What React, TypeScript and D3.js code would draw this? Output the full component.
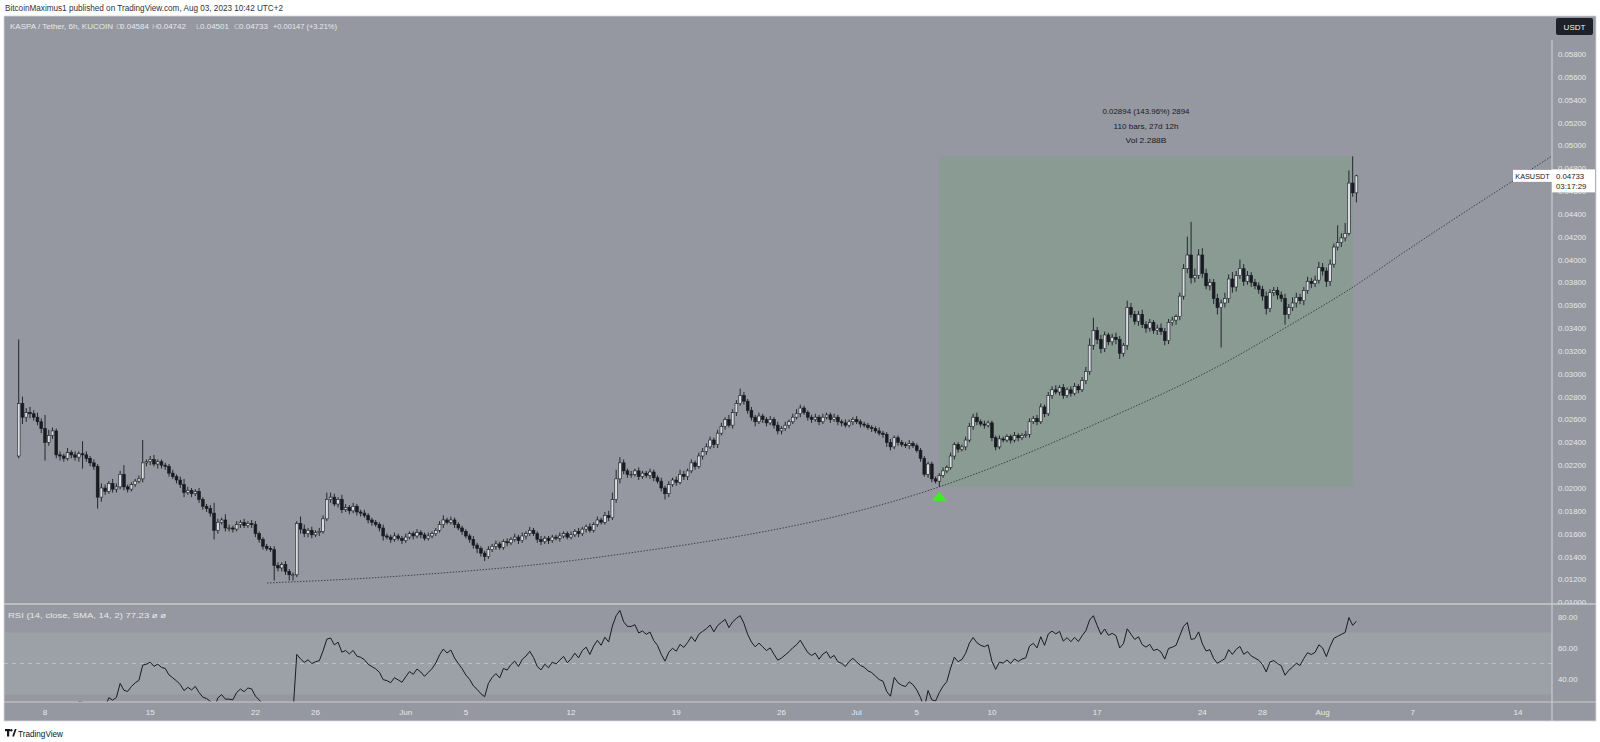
import React, { useMemo } from "react";
import * as d3 from "d3";

const W = 1600;
const H = 742;

// ---- data (prices in units of 0.0001 USDT), 6h bars from 2023-05-06 06:00 UTC ----
const FIRST_BAR = Date.UTC(2023, 4, 6, 6);
const BAR_MS = 6 * 3600 * 1000;
const FIRST_OPEN = 228;

const closes: number[] = [
  274, 262, 266, // May 6
  265, 262, 258, 252, // May 7
  240, 246, 250, 229, // May 8
  228, 226, 231, 229, // May 9
  227, 230, 229, 226, // May 10
  222, 219, 192, 200, // May 11
  197, 204, 199, 201, // May 12
  212, 201, 199, 203, // May 13
  206, 208, 222, 223, // May 14
  225, 221, 223, 220, // May 15
  219, 213, 210, 207, // May 16
  203, 196, 198, 195, // May 17
  197, 190, 184, 182, // May 18
  178, 163, 170, 172, // May 19
  165, 165, 164, 168, // May 20
  170, 167, 169, 168, // May 21
  160, 155, 149, 147, // May 22
  146, 132, 130, 133, // May 23
  127, 124, 124, 169, // May 24
  164, 160, 163, 159, // May 25
  161, 162, 173, 190, // May 26
  192, 186, 190, 181, // May 27
  183, 180, 184, 179, // May 28
  178, 176, 172, 170, // May 29
  168, 165, 158, 157, // May 30
  155, 158, 156, 154, // May 31
  157, 160, 158, 161, // Jun 1
  159, 156, 158, 160, // Jun 2
  163, 168, 172, 170, // Jun 3
  172, 168, 165, 162, // Jun 4
  158, 155, 150, 147, // Jun 5
  143, 140, 146, 149, // Jun 6
  151, 148, 153, 152, // Jun 7
  155, 157, 154, 158, // Jun 8
  160, 163, 160, 155, // Jun 9
  153, 156, 154, 157, // Jun 10
  156, 158, 160, 157, // Jun 11
  159, 162, 160, 164, // Jun 12
  166, 163, 168, 172, // Jun 13
  170, 176, 174, 190, // Jun 14
  208, 222, 215, 212, // Jun 15
  212, 215, 210, 213, // Jun 16
  211, 214, 209, 206, // Jun 17
  200, 195, 203, 207, // Jun 18
  205, 212, 210, 215, // Jun 19
  222, 219, 228, 232, // Jun 20
  236, 242, 238, 248, // Jun 21
  254, 260, 255, 266, // Jun 22
  274, 281, 276, 268, // Jun 23
  262, 258, 263, 260, // Jun 24
  257, 260, 255, 250, // Jun 25
  252, 255, 258, 262, // Jun 26
  265, 270, 266, 262, // Jun 27
  260, 262, 258, 262, // Jun 28
  264, 260, 262, 258, // Jun 29
  257, 255, 258, 260, // Jun 30
  258, 256, 255, 253, // Jul 1
  252, 250, 248, 247, // Jul 2
  240, 236, 244, 240, // Jul 3
  238, 237, 239, 237, // Jul 4
  233, 226, 212, 221, // Jul 5
  208, 206, 211, 215, // Jul 6
  218, 228, 238, 234, // Jul 7
  236, 242, 254, 262, // Jul 8
  258, 256, 255, 257, // Jul 9
  244, 236, 243, 242, // Jul 10
  245, 242, 246, 244, // Jul 11
  246, 247, 258, 261, // Jul 12
  258, 271, 265, 281, // Jul 13
  286, 284, 288, 281, // Jul 14
  286, 283, 289, 286, // Jul 15
  294, 302, 325, 338, // Jul 16
  330, 322, 334, 328, // Jul 17
  332, 330, 318, 325, // Jul 18
  358, 352, 346, 352, // Jul 19
  343, 340, 345, 338, // Jul 20
  340, 337, 329, 345, // Jul 21
  347, 350, 368, 392, // Jul 22
  404, 384, 386, 404, // Jul 23
  388, 377, 380, 366, // Jul 24
  358, 362, 366, 383, // Jul 25
  376, 386, 392, 381, // Jul 26
  386, 380, 377, 374, // Jul 27
  368, 357, 371, 373, // Jul 28
  369, 366, 352, 358, // Jul 29
  362, 367, 364, 373, // Jul 30
  381, 379, 382, 393, // Jul 31
  390, 381, 396, 411, // Aug 1
  415, 419, 423, 467, // Aug 2
  458.4, 473.3, // Aug 3
];

const wickUp: number[] = [
  56, 6, 4,
  5, 3, 4, 3,
  12, 5, 3, 2,
  3, 2, 4, 2,
  3, 2, 11, 3,
  2, 3, 2, 4,
  3, 2, 4, 3,
  3, 8, 2, 2,
  2, 3, 20, 2,
  3, 4, 2, 2,
  2, 2, 3, 2,
  3, 5, 3, 2,
  2, 3, 2, 2,
  3, 9, 3, 2,
  5, 3, 2, 3,
  2, 3, 2, 3,
  3, 2, 2, 2,
  2, 3, 3, 2,
  3, 2, 2, 2,
  6, 4, 2, 3,
  2, 3, 3, 6,
  4, 3, 2, 4,
  3, 2, 3, 2,
  2, 3, 2, 2,
  2, 2, 3, 2,
  2, 3, 2, 2,
  3, 2, 2, 3,
  2, 2, 3, 2,
  2, 3, 4, 2,
  3, 2, 2, 2,
  2, 2, 3, 2,
  2, 2, 3, 2,
  3, 2, 2, 3,
  2, 3, 2, 3,
  2, 3, 2, 2,
  3, 2, 2, 2,
  2, 3, 2, 2,
  3, 2, 3, 2,
  2, 3, 2, 3,
  2, 3, 4, 6,
  8, 5, 3, 2,
  3, 2, 3, 2,
  2, 3, 2, 2,
  3, 2, 3, 2,
  3, 4, 3, 2,
  3, 2, 3, 3,
  3, 3, 2, 3,
  3, 2, 4, 3,
  3, 6, 3, 2,
  3, 2, 3, 2,
  2, 3, 2, 3,
  2, 3, 2, 3,
  4, 3, 2, 2,
  2, 3, 2, 3,
  2, 2, 3, 2,
  2, 3, 2, 2,
  3, 2, 2, 2,
  2, 2, 3, 2,
  2, 3, 2, 2,
  2, 2, 3, 2,
  2, 2, 2, 2,
  2, 2, 2, 3,
  2, 3, 2, 2,
  2, 3, 3, 3,
  4, 2, 3, 2,
  2, 2, 3, 2,
  2, 2, 3, 2,
  2, 3, 3, 2,
  3, 3, 2, 3,
  3, 4, 2, 3,
  2, 3, 3, 2,
  3, 4, 6, 11,
  3, 4, 3, 2,
  3, 4, 3, 2,
  6, 4, 3, 3,
  4, 3, 3, 2,
  3, 4, 3, 3,
  3, 2, 3, 4,
  16, 29, 6, 5,
  6, 4, 3, 3,
  4, 3, 5, 4,
  6, 4, 8, 4,
  4, 3, 3, 3,
  3, 4, 3, 3,
  3, 3, 4, 3,
  5, 4, 3, 3,
  4, 3, 4, 5,
  4, 3, 4, 3,
  15, 4, 9, 11,
  23.4, 0.9,
];

const wickDown: number[] = [
  2, 6, 4,
  4, 3, 3, 4,
  16, 3, 3, 3,
  4, 3, 2, 3,
  3, 4, 12, 3,
  3, 3, 10, 4,
  3, 2, 3, 3,
  2, 3, 3, 2,
  2, 2, 3, 3,
  3, 2, 4, 3,
  3, 3, 2, 3,
  3, 4, 2, 3,
  2, 3, 3, 3,
  3, 8, 3, 2,
  3, 3, 3, 2,
  3, 2, 2, 3,
  3, 3, 3, 2,
  2, 13, 3, 3,
  3, 5, 5, 2,
  4, 3, 3, 3,
  2, 3, 2, 2,
  3, 2, 3, 3,
  2, 3, 2, 3,
  3, 2, 3, 3,
  2, 3, 4, 2,
  3, 2, 2, 3,
  2, 2, 3, 2,
  3, 2, 2, 2,
  2, 2, 3, 2,
  2, 3, 2, 3,
  2, 3, 3, 4,
  3, 4, 2, 2,
  3, 2, 2, 3,
  2, 2, 3, 2,
  3, 2, 2, 3,
  3, 2, 3, 2,
  2, 3, 2, 2,
  2, 2, 3, 2,
  3, 2, 2, 2,
  2, 2, 3, 2,
  3, 4, 3, 3,
  3, 2, 3, 2,
  2, 3, 3, 2,
  3, 5, 3, 2,
  3, 2, 3, 3,
  2, 3, 2, 3,
  3, 2, 3, 3,
  2, 3, 2, 3,
  3, 2, 3, 3,
  3, 4, 2, 3,
  3, 2, 3, 3,
  3, 2, 3, 2,
  2, 3, 2, 3,
  3, 2, 3, 2,
  2, 3, 2, 3,
  3, 2, 2, 3,
  2, 3, 2, 2,
  3, 2, 2, 3,
  4, 3, 2, 3,
  2, 2, 3, 2,
  2, 3, 2, 3,
  3, 2, 5, 2,
  2, 2, 3, 3,
  2, 3, 2, 3,
  3, 2, 3, 2,
  3, 3, 2, 2,
  2, 3, 2, 3,
  2, 2, 3, 2,
  3, 2, 3, 2,
  3, 2, 3, 3,
  2, 3, 2, 3,
  2, 3, 3, 4,
  4, 4, 3, 3,
  3, 4, 5, 3,
  4, 3, 3, 4,
  3, 4, 3, 3,
  4, 3, 4, 3,
  3, 4, 3, 3,
  4, 5, 4, 3,
  4, 3, 4, 5,
  6, 35, 4, 4,
  5, 4, 3, 4,
  3, 4, 3, 4,
  4, 5, 3, 3,
  4, 3, 9, 4,
  3, 4, 3, 4,
  3, 4, 3, 3,
  4, 5, 4, 3,
  3, 4, 3, 2,
  3.4, 8.3,
];

const priceTicks: number[] = [
  0.010, 0.012, 0.014, 0.016, 0.018, 0.020, 0.022, 0.024, 0.026, 0.028, 0.030,
  0.032, 0.034, 0.036, 0.038, 0.040, 0.042, 0.044, 0.046, 0.048, 0.050, 0.052,
  0.054, 0.056, 0.058,
];
const timeTickDates: string[] = [
  "2023-05-08", "2023-05-15", "2023-05-22", "2023-05-26", "2023-06-01", "2023-06-05",
  "2023-06-12", "2023-06-19", "2023-06-26", "2023-07-01", "2023-07-05", "2023-07-10",
  "2023-07-17", "2023-07-24", "2023-07-28", "2023-08-01", "2023-08-07", "2023-08-14",
];
const timeTickLabels: string[] = [
  "8", "15", "22", "26", "Jun", "5", "12", "19", "26", "Jul", "5", "10", "17", "24", "28", "Aug", "7", "14",
];
const rsiTicks: number[] = [80, 60, 40];

// hand-drawn curve (trend arc)
const curveDates: string[] = [
  "2023-05-22T18:30Z", "2023-05-31T15:00Z", "2023-06-13T22:20Z", "2023-07-06T12:00Z",
  "2023-07-17T04:30Z", "2023-07-25T20:00Z", "2023-07-29T20:00Z", "2023-08-03T00:45Z",
  "2023-08-06T03:30Z", "2023-08-18T06:30Z",
];
const curvePrices: number[] = [
  0.01168, 0.01229, 0.01396, 0.0201, 0.02578, 0.03121, 0.03427, 0.0376, 0.0404, 0.05074,
];

// measurement box
const measureFrom = "2023-07-06T12:00Z";
const measureTo = "2023-08-03T00:00Z";
const measureLow = 0.0201;
const measureHigh = 0.04904;
const measureLines = ["0.02894 (143.96%) 2894", "110 bars, 27d 12h", "Vol 2.288B"];

const lastPrice = 0.04733;

// ---- styles ----
const BG = "#9598a0";
const BAND = "#9ca0a7";
const LINE_LIGHT = "#c9ccd2";
const TXT_LIGHT = "#e6e8ec";
const DARK = "#181b22";
const UP_FILL = "#d9dce1";
const FONT = "'Liberation Sans', Arial, sans-serif";

// layout
const L = 4, R = 1552, RR = 1596, TOP = 16, SEP = 604, RSI_BOT = 702, AX_BOT = 721;

export default function App() {
  const x = d3.scaleUtc().domain([new Date(Date.UTC(2023, 4, 8)), new Date(Date.UTC(2023, 7, 14))]).range([45, 1518]);
  const y = d3.scaleLinear().domain([0.02, 0.058]).range([488, 54]);
  const yr = d3.scaleLinear().domain([40, 80]).range([679, 617]);

  const bars = useMemo(() => {
    const out: { t: Date; o: number; h: number; l: number; c: number }[] = [];
    let prev = FIRST_OPEN;
    for (let i = 0; i < closes.length; i++) {
      const o = prev;
      const c = closes[i];
      const h = Math.max(o, c) + (wickUp[i] ?? 2);
      const l = Math.min(o, c) - (wickDown[i] ?? 2);
      out.push({ t: new Date(FIRST_BAR + i * BAR_MS), o: o / 1e4, h: h / 1e4, l: l / 1e4, c: c / 1e4 });
      prev = c;
    }
    return out;
  }, []);

  // RSI(14) with Wilder smoothing, computed from the closes
  const rsi = useMemo(() => {
    const n = 14;
    const res: { t: Date; v: number }[] = [];
    let su = 0, sd = 0, au = 0, ad = 0;
    for (let i = 1; i < closes.length; i++) {
      const ch = closes[i] - closes[i - 1];
      const u = Math.max(ch, 0), d = Math.max(-ch, 0);
      if (i <= n) {
        su += u; sd += d;
        if (i === n) { au = su / n; ad = sd / n; }
        else continue;
      } else {
        au = (au * (n - 1) + u) / n;
        ad = (ad * (n - 1) + d) / n;
      }
      const v = ad === 0 ? 100 : 100 - 100 / (1 + au / ad);
      res.push({ t: new Date(FIRST_BAR + i * BAR_MS), v });
    }
    return res;
  }, []);

  const rsiLine = d3.line<{ t: Date; v: number }>().x((d) => x(d.t)).y((d) => yr(d.v))(rsi) || "";
  const curvePts = curveDates.map((d, i) => [x(new Date(d)), y(curvePrices[i])] as [number, number]);
  const curvePath = d3.line().curve(d3.curveMonotoneX)(curvePts) || "";

  const mx0 = x(new Date(measureFrom));
  const mx1 = x(new Date(measureTo));
  const my0 = y(measureHigh);
  const my1 = y(measureLow);
  const mcx = (mx0 + mx1) / 2;
  const bw = 2.8;
  const lastY = y(lastPrice);
  const fmtP = d3.format(".5f");

  return (
    <svg width={W} height={H} style={{ position: "absolute", left: 0, top: 0, background: "#ffffff" }} fontFamily={FONT}>
      <defs>
        <clipPath id="pricePane"><rect x={L} y={TOP} width={R - L} height={SEP - TOP} /></clipPath>
        <clipPath id="rsiPane"><rect x={L} y={SEP + 1} width={R - L} height={RSI_BOT - SEP - 1} /></clipPath>
        <clipPath id="priceAxis"><rect x={R} y={TOP} width={RR - R} height={SEP - TOP} /></clipPath>
      </defs>

      {/* header */}
      <text x={5} y={11} fontSize={8.5} fill="#2f333c" textLength={278} lengthAdjust="spacingAndGlyphs">
        BitcoinMaximus1 published on TradingView.com, Aug 03, 2023 10:42 UTC+2
      </text>

      {/* panes */}
      <rect x={L} y={TOP} width={RR - L} height={AX_BOT - TOP} fill={BG} />
      <rect x={L} y={yr(70)} width={R - L} height={yr(30) - yr(70)} fill={BAND} clipPath="url(#rsiPane)" />

      {/* measurement box */}
      <rect x={mx0} y={my0} width={mx1 - mx0} height={my1 - my0} fill="rgba(76,175,80,0.16)" clipPath="url(#pricePane)" />
      {measureLines.map((s, i) => (
        <text key={s} x={mcx} y={[114, 129, 143][i]} fontSize={8} fill={DARK} textAnchor="middle"
          textLength={[87, 65, 41][i]} lengthAdjust="spacingAndGlyphs">{s}</text>
      ))}

      {/* header line 2 */}
      <g fontSize={8} fill={TXT_LIGHT}>
        <text x={10} y={29} textLength={103} lengthAdjust="spacingAndGlyphs">KASPA / Tether, 6h, KUCOIN</text>
        <text x={116} y={29} fill="#c9ccd2">O</text>
        <text x={120} y={29} textLength={29} lengthAdjust="spacingAndGlyphs">0.04584</text>
        <text x={152} y={29} fill="#c9ccd2">H</text>
        <text x={157} y={29} textLength={29} lengthAdjust="spacingAndGlyphs">0.04742</text>
        <text x={196} y={29} fill="#c9ccd2">L</text>
        <text x={200} y={29} textLength={29} lengthAdjust="spacingAndGlyphs">0.04501</text>
        <text x={234} y={29} fill="#c9ccd2">C</text>
        <text x={239} y={29} textLength={29} lengthAdjust="spacingAndGlyphs">0.04733</text>
        <text x={273} y={29} textLength={64} lengthAdjust="spacingAndGlyphs">+0.00147 (+3.21%)</text>
      </g>

      {/* curve */}
      <path d={curvePath} fill="none" stroke="#2a2d35" strokeWidth={0.8} strokeDasharray="1.5 1.5" clipPath="url(#pricePane)" />

      {/* candles */}
      <g clipPath="url(#pricePane)">
        {bars.map((b, i) => {
          const cx = x(b.t);
          const up = b.c >= b.o;
          const top = y(Math.max(b.o, b.c));
          const bot = y(Math.min(b.o, b.c));
          return (
            <g key={i}>
              <line x1={cx} x2={cx} y1={y(b.h)} y2={y(b.l)} stroke={DARK} strokeWidth={0.9} />
              <rect x={cx - bw / 2} y={top} width={bw} height={Math.max(bot - top, 0.8)}
                fill={up ? UP_FILL : DARK} stroke={DARK} strokeWidth={0.6} />
            </g>
          );
        })}
      </g>

      {/* signal triangle */}
      <path d={`M${mx0},${my1 + 5} L${mx0 + 7.5},${my1 + 14} L${mx0 - 7.5},${my1 + 14} Z`} fill="#3cf01e" />

      {/* RSI */}
      <line x1={L} x2={R} y1={yr(50)} y2={yr(50)} stroke="#c3c6cc" strokeWidth={0.8} strokeDasharray="4 4" />
      <path d={rsiLine} fill="none" stroke={DARK} strokeWidth={1} clipPath="url(#rsiPane)" />
      <text x={8} y={618} fontSize={8} fill={TXT_LIGHT} textLength={158} lengthAdjust="spacingAndGlyphs">
        RSI (14, close, SMA, 14, 2) 77.23 ø ø
      </text>

      {/* frame lines */}
      <line x1={L} x2={RR} y1={SEP} y2={SEP} stroke={LINE_LIGHT} strokeWidth={1.5} />
      <line x1={L} x2={RR} y1={RSI_BOT} y2={RSI_BOT} stroke={LINE_LIGHT} strokeWidth={1.2} />
      <line x1={R} x2={R} y1={TOP + 24} y2={AX_BOT} stroke={LINE_LIGHT} strokeWidth={1.2} />
      <rect x={L} y={TOP} width={RR - L} height={AX_BOT - TOP} fill="none" stroke="#d4d6db" strokeWidth={0.8} />

      {/* price axis */}
      <g clipPath="url(#priceAxis)" fontSize={7.8} fill={TXT_LIGHT}>
        {priceTicks.map((p) => (
          <text key={p} x={1558} y={y(p) + 3}>{fmtP(p)}</text>
        ))}
      </g>
      <rect x={1556} y={18} width={37} height={17} rx={2} fill="#1e2129" />
      <text x={1574.5} y={29.5} fontSize={8} fill="#f0f2f5" textAnchor="middle">USDT</text>

      {/* RSI axis */}
      <g fontSize={7.8} fill={TXT_LIGHT}>
        {rsiTicks.map((v) => (
          <text key={v} x={1558} y={yr(v) + 3}>{v.toFixed(2)}</text>
        ))}
      </g>

      {/* last price labels */}
      <rect x={1513} y={lastY - 6} width={39} height={12} fill="#ffffff" />
      <text x={1532.5} y={lastY + 3} fontSize={7.3} fill={DARK} textAnchor="middle">KASUSDT</text>
      <rect x={1552} y={lastY - 6.5} width={43} height={23} fill="#ffffff" />
      <text x={1556} y={lastY + 3} fontSize={7.8} fill={DARK}>{fmtP(lastPrice)}</text>
      <text x={1556} y={lastY + 13} fontSize={7.8} fill={DARK}>03:17:29</text>

      {/* time axis */}
      <g fontSize={8} fill={TXT_LIGHT} textAnchor="middle">
        {timeTickDates.map((d, i) => (
          <text key={d} x={x(new Date(d + "T00:00Z"))} y={715}>{timeTickLabels[i]}</text>
        ))}
      </g>

      {/* footer logo */}
      <g fill="#131722">
        <rect x={5} y={729} width={5} height={2.2} />
        <rect x={7} y={729} width={2.2} height={7.5} />
        <circle cx={11.3} cy={730.3} r={1.2} />
        <path d="M12.2,736.5 L14.8,729 L16.6,729 L14,736.5 Z" />
        <text x={18} y={736.5} fontSize={9} textLength={45} lengthAdjust="spacingAndGlyphs">TradingView</text>
      </g>
    </svg>
  );
}
